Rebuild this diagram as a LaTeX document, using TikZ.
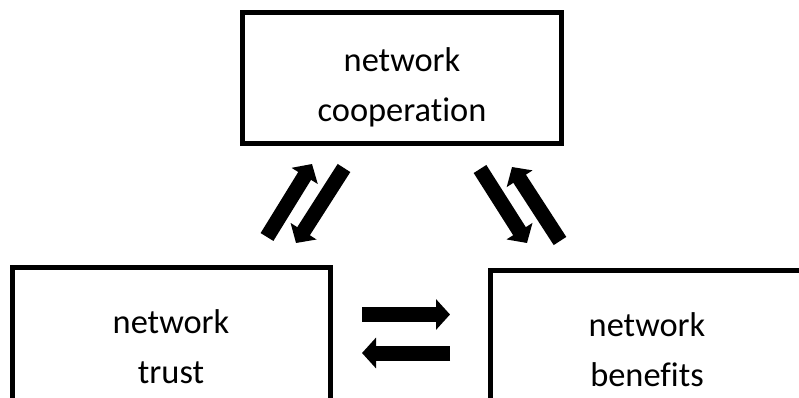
\documentclass[tikz,border=0pt]{standalone}
\usepackage{fontspec}
\setmainfont{Carlito}[Ligatures={NoCommon,NoContextual}]
\usetikzlibrary{arrows.meta}
\begin{document}
\begin{tikzpicture}[x=1pt,y=-1pt,
  box/.style={draw=black, line width=5pt, fill=white, inner sep=0pt},
  txt/.style={anchor=base, inner sep=0pt, font=\fontsize{34.4}{50}\selectfont},
  blockarrow/.style={line width=15pt, black, -{Triangle[length=14pt,width=30pt]}}]
\useasboundingbox (0,0) rectangle (799,398);
\clip (0,0) rectangle (799,398);
% boxes
\node[box, minimum width=318.5pt, minimum height=131pt] (coop) at (401.75,78.5) {};
\node[box, minimum width=317.5pt, minimum height=180pt] (trust) at (171.25,357) {};
\node[box, minimum width=316pt, minimum height=180pt] (bene) at (648,360) {};
% texts
\node[txt] (coop1) at (402,72) {network};
\node[txt] (coop2) at (402,122) {cooperation};
\node[txt] (trust1) at (171,333) {network};
\node[txt] (trust2) at (171,383) {trust};
\node[txt] (bene1) at (647,336) {network};
\node[txt] (bene2) at (647,386) {benefits};
% arrow end points
\coordinate (a1s) at (267,237); \coordinate (a1e) at (312,164);
\coordinate (a2s) at (344,168); \coordinate (a2e) at (296,243);
\coordinate (a3s) at (480,169); \coordinate (a3e) at (527,243);
\coordinate (a4s) at (560,241); \coordinate (a4e) at (512,167);
\coordinate (h1s) at (362,314.5); \coordinate (h1e) at (450,314.5);
\coordinate (h2s) at (450,353); \coordinate (h2e) at (362,353);
% arrows
\draw[blockarrow] (a1s) -- (a1e);
\draw[blockarrow] (a2s) -- (a2e);
\draw[blockarrow] (a3s) -- (a3e);
\draw[blockarrow] (a4s) -- (a4e);
\draw[blockarrow] (h1s) -- (h1e);
\draw[blockarrow] (h2s) -- (h2e);
\end{tikzpicture}
\end{document}
